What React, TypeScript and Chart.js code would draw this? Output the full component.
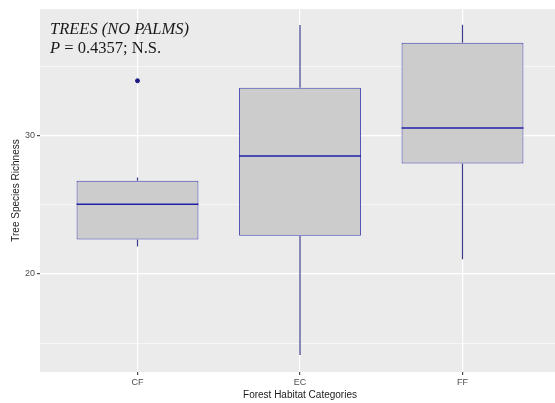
import React, { useEffect, useRef } from "react";
import { Chart, registerables } from "chart.js";

Chart.register(...registerables);

const categories = ["CF", "EC", "FF"];
const q1Values = [22.5, 22.78, 28.0];
const medianValues = [25.05, 28.55, 30.58];
const q3Values = [26.75, 33.5, 36.76];
const whiskerLow = [22.0, 14.13, 21.07];
const whiskerHigh = [27.0, 38.04, 38.05];
const outlierCategory = [0];
const outlierValue = [34.0];
const yTickValues = [15, 20, 25, 30, 35];
const yMajorTicks = [20, 30];
const yRange = [12.9, 39.2];
const annotationLine1 = "TREES (NO PALMS)";
const annotationP = "P";
const annotationRest = " = 0.4357; N.S.";
const xTitle = "Forest Habitat Categories";
const yTitle = "Tree Species Richness";

const BOX_WIDTH = 0.75;

const panelBg = {
  id: "panelBg",
  beforeDraw(chart: any) {
    const { ctx, chartArea } = chart;
    ctx.save();
    ctx.fillStyle = "#EBEBEB";
    ctx.fillRect(chartArea.left, chartArea.top, chartArea.right - chartArea.left, chartArea.bottom - chartArea.top);
    ctx.restore();
  },
};

const annotation = {
  id: "annotation",
  afterDraw(chart: any) {
    const { ctx, chartArea } = chart;
    ctx.save();
    ctx.fillStyle = "#1a1a1a";
    ctx.textBaseline = "alphabetic";
    const x = chartArea.left + 10;
    ctx.font = "italic 16.5px 'Liberation Serif', 'Times New Roman', serif";
    ctx.fillText(annotationLine1, x, 34);
    ctx.fillText(annotationP, x, 53);
    const w = ctx.measureText(annotationP).width;
    ctx.font = "16.5px 'Liberation Serif', 'Times New Roman', serif";
    ctx.fillText(annotationRest, x + w, 53);
    ctx.restore();
  },
};

export default function App() {
  const ref = useRef<HTMLCanvasElement | null>(null);
  useEffect(() => {
    if (!ref.current) return;
    const positions = categories.map((_, i) => i + 1);
    const boxData = positions.map((x, i) => ({ x, y: [q1Values[i], q3Values[i]] }));
    const whiskerData: any[] = [];
    positions.forEach((x, i) => {
      whiskerData.push({ x, y: whiskerLow[i] }, { x, y: q1Values[i] }, { x, y: null });
      whiskerData.push({ x, y: q3Values[i] }, { x, y: whiskerHigh[i] }, { x, y: null });
    });
    const medianData: any[] = [];
    positions.forEach((x, i) => {
      medianData.push({ x: x - BOX_WIDTH / 2, y: medianValues[i] }, { x: x + BOX_WIDTH / 2, y: medianValues[i] }, { x, y: null });
    });
    const outlierData = outlierCategory.map((c, i) => ({ x: c + 1, y: outlierValue[i] }));

    const chart = new Chart(ref.current, {
      type: "bar",
      data: {
        datasets: [
          {
            type: "scatter",
            data: outlierData,
            backgroundColor: "#1a1a80",
            borderColor: "#1a1a80",
            pointRadius: 2,
            order: 0,
          } as any,
          {
            type: "line",
            data: medianData,
            borderColor: "#2020A8",
            borderWidth: 1.6,
            pointRadius: 0,
            spanGaps: false,
            order: 1,
          } as any,
          {
            type: "bar",
            data: boxData,
            backgroundColor: "#CCCCCC",
            borderColor: "#4040B0",
            borderWidth: 1,
            borderSkipped: false,
            barPercentage: BOX_WIDTH,
            categoryPercentage: 1,
            order: 2,
          } as any,
          {
            type: "line",
            data: whiskerData,
            borderColor: "#3C3C8E",
            borderWidth: 1.2,
            pointRadius: 0,
            spanGaps: false,
            order: 3,
          } as any,
        ],
      },
      options: {
        responsive: false,
        animation: false,
        layout: { padding: { top: 9, left: 0, right: 0, bottom: 0 } },
        plugins: { legend: { display: false }, tooltip: { enabled: false } },
        scales: {
          x: {
            type: "linear",
            offset: false,
            min: 0.4,
            max: categories.length + 0.6,
            afterBuildTicks: (scale: any) => {
              scale.ticks = positions.map((v) => ({ value: v }));
            },
            afterFit: (scale: any) => {
              scale.height = 31;
            },
            ticks: {
              callback: (v: any) => categories[Math.round(v) - 1] ?? "",
              color: "#4D4D4D",
              font: { family: "'Liberation Sans', Arial, sans-serif", size: 9 },
              padding: 2,
              maxRotation: 0,
              autoSkip: false,
            },
            grid: { offset: false, color: "#FFFFFF", lineWidth: 1.2, tickColor: "#4D4D4D", tickLength: 3 },
            border: { display: false },
            title: {
              display: true,
              text: xTitle,
              color: "#1a1a1a",
              font: { family: "'Liberation Sans', Arial, sans-serif", size: 10 },
              padding: { top: 0, bottom: 2 },
            },
          },
          y: {
            type: "linear",
            min: yRange[0],
            max: yRange[1],
            afterBuildTicks: (scale: any) => {
              scale.ticks = yTickValues.map((v) => ({ value: v }));
            },
            afterFit: (scale: any) => {
              scale.width = 40;
            },
            ticks: {
              callback: (v: any) => (yMajorTicks.includes(v) ? String(v) : ""),
              color: "#4D4D4D",
              font: { family: "'Liberation Sans', Arial, sans-serif", size: 9 },
              padding: 2,
            },
            grid: {
              color: "#FFFFFF",
              lineWidth: (c: any) => (yMajorTicks.includes(c.tick?.value) ? 1.2 : 0.6),
              tickColor: (c: any) => (yMajorTicks.includes(c.tick?.value) ? "#4D4D4D" : "rgba(0,0,0,0)"),
              tickLength: 3,
            },
            border: { display: false },
            title: {
              display: true,
              text: yTitle,
              color: "#1a1a1a",
              font: { family: "'Liberation Sans', Arial, sans-serif", size: 10 },
              padding: { top: 10, bottom: 0 },
            },
          },
        },
      },
      plugins: [panelBg, annotation],
    });
    return () => chart.destroy();
  }, []);

  return (
    <div style={{ position: "fixed", left: 0, top: 0, width: 555, height: 403, overflow: "hidden", background: "#fff" }}>
      <canvas ref={ref} width={565} height={403} style={{ width: 565, height: 403, display: "block" }} />
    </div>
  );
}
